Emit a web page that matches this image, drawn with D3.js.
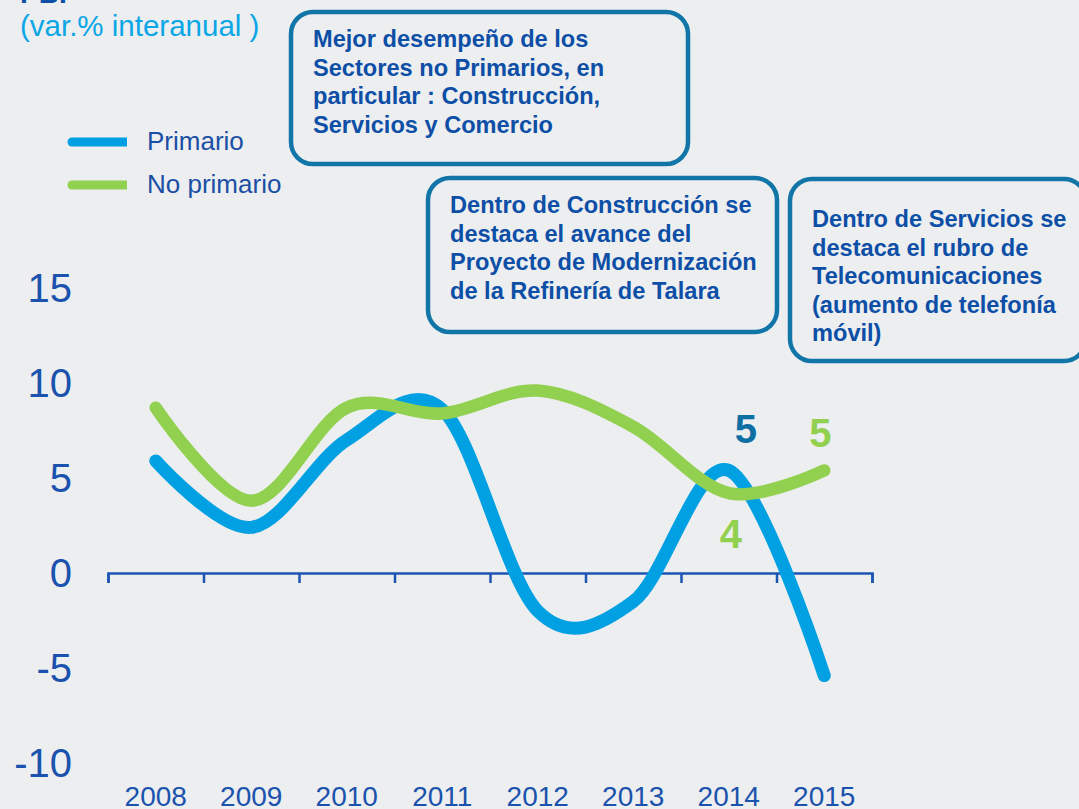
<!DOCTYPE html>
<html>
<head>
<meta charset="utf-8">
<script src="https://cdn.jsdelivr.net/npm/d3@7"></script>
<style>
  html, body { margin: 0; padding: 0; background: #eceef0; }
  svg { display: block; font-family: Arial, "Liberation Sans", sans-serif; }
  .ylab { fill: #1a52ad; font-size: 40px; }
  .xlab text { fill: #1a52ad; font-size: 28px; }
  .note { fill: #0d4fa6; font-size: 23.6px; font-weight: bold; }
  .box { fill: none; stroke: #1275a8; stroke-width: 4.5px; }
</style>
</head>
<body>
<div id="chart"></div>
<script>
// Datos (var.% interanual)
let years = ['2008', '2009', '2010', '2011', '2012', '2013', '2014', '2015'];
let primario = [5.9, 2.4, 7.0, 8.6, -2.0, -1.5, 5.4, -5.4];
let noPrimario = [8.7, 3.8, 8.7, 8.4, 9.6, 7.7, 4.2, 5.4];
let yTicks = [-10, -5, 0, 5, 10, 15];

let notas = [
    {x: 291, y: 12, w: 397, h: 152, lines: ['Mejor desempeño de los', 'Sectores no Primarios, en', 'particular : Construcción,', 'Servicios y Comercio']},
    {x: 428, y: 178, w: 349, h: 154, lines: ['Dentro de Construcción se', 'destaca el avance del', 'Proyecto de Modernización', 'de la Refinería de Talara']},
    {x: 790, y: 179, w: 296, h: 182, lines: ['Dentro de Servicios se', 'destaca el rubro de', 'Telecomunicaciones', '(aumento de telefonía', 'móvil)']}
];

let width = 1079, height = 809;

let svg = d3.select('#chart').append('svg')
    .attr('width', width)
    .attr('height', height);

svg.append('rect').attr('width', width).attr('height', height).attr('fill', '#eceef0');

// Escalas
let x = d3.scaleBand().domain(years).range([108, 872]);
let y = d3.scaleLinear().domain([-10, 15]).range([763, 288]);
let cx = d => x(d) + x.bandwidth() / 2;

// Título (cortado arriba) y subtítulo
svg.append('text').attr('x', 20).attr('y', 3)
    .attr('fill', '#0d4fa6').attr('font-size', 28).attr('font-weight', 'bold').text('PBI');
svg.append('text').attr('x', 20).attr('y', 36)
    .attr('fill', '#0aa6e6').attr('font-size', 29.5).text('(var.% interanual )');

// Eje Y (solo etiquetas)
svg.append('g').selectAll('text')
    .data(yTicks)
    .join('text')
    .attr('class', 'ylab')
    .attr('x', 72)
    .attr('y', d => y(d))
    .attr('dy', '0.36em')
    .attr('text-anchor', 'end')
    .text(d => d);

// Eje X: línea en cero con marcas entre categorías
let xEdge = d3.scaleLinear().domain([0, years.length]).range(x.range());
let xAxis = svg.append('g')
    .attr('transform', 'translate(0,' + y(0) + ')')
    .call(d3.axisBottom(xEdge).ticks(years.length).tickSize(10).tickSizeOuter(10).tickFormat(''));
xAxis.selectAll('path, line').attr('stroke', '#1d55b3').attr('stroke-width', 2.5);

// Etiquetas de años abajo
svg.append('g')
    .attr('class', 'xlab')
    .attr('transform', 'translate(0,806)')
    .call(d3.axisBottom(x).tickSize(0).tickPadding(0))
    .call(g => g.select('.domain').remove())
    .selectAll('text').attr('dy', 0);

// Líneas
let line = d3.line()
    .x((d, i) => cx(years[i]))
    .y(d => y(d))
    .curve(d3.curveCatmullRom.alpha(0));

svg.append('path').datum(primario)
    .attr('fill', 'none').attr('stroke', '#00a0e3')
    .attr('stroke-width', 13).attr('stroke-linecap', 'round').attr('stroke-linejoin', 'round')
    .attr('d', line);

svg.append('path').datum(noPrimario)
    .attr('fill', 'none').attr('stroke', '#92d050')
    .attr('stroke-width', 12.5).attr('stroke-linecap', 'round').attr('stroke-linejoin', 'round')
    .attr('d', line);

// Etiquetas de datos
let fmt = d3.format('.0f');
let etiquetas = [
    {year: '2014', v: primario[6], color: '#0e6fa5', dx: 17, dy: -27},
    {year: '2015', v: noPrimario[7], color: '#92d050', dx: -4, dy: -23},
    {year: '2014', v: noPrimario[6], color: '#92d050', dx: 2, dy: 55}
];
svg.append('g').selectAll('text')
    .data(etiquetas)
    .join('text')
    .attr('x', d => cx(d.year) + d.dx)
    .attr('y', d => y(d.v) + d.dy)
    .attr('text-anchor', 'middle')
    .attr('font-size', 40).attr('font-weight', 'bold')
    .attr('fill', d => d.color)
    .text(d => fmt(d.v));

// Leyenda
let leyenda = [{name: 'Primario', color: '#00a0e3'}, {name: 'No primario', color: '#92d050'}];
let leg = svg.append('g').selectAll('g')
    .data(leyenda)
    .join('g')
    .attr('transform', (d, i) => 'translate(0,' + (142 + i * 43) + ')');
leg.append('line')
    .attr('x1', 72).attr('x2', 127)
    .attr('stroke', d => d.color).attr('stroke-width', 9).attr('stroke-linecap', 'round');
leg.append('rect')
    .attr('x', 127).attr('y', -6).attr('width', 6).attr('height', 12).attr('fill', '#eceef0');
leg.append('text')
    .attr('x', 147).attr('y', 8)
    .attr('fill', '#1a4fa5').attr('font-size', 26)
    .text(d => d.name);

// Cuadros de texto
let cajas = svg.append('g').selectAll('g')
    .data(notas)
    .join('g')
    .attr('transform', d => 'translate(' + d.x + ',' + d.y + ')');
cajas.append('rect')
    .attr('class', 'box')
    .attr('width', d => d.w).attr('height', d => d.h)
    .attr('rx', 22).attr('ry', 22);
cajas.each(function(d) {
    let top = d.lines.length > 4 ? 48 : 35;
    d3.select(this).selectAll('text')
        .data(d.lines)
        .join('text')
        .attr('class', 'note')
        .attr('x', 22)
        .attr('y', (t, i) => top + i * 28.5)
        .text(t => t);
});
</script>
</body>
</html>
